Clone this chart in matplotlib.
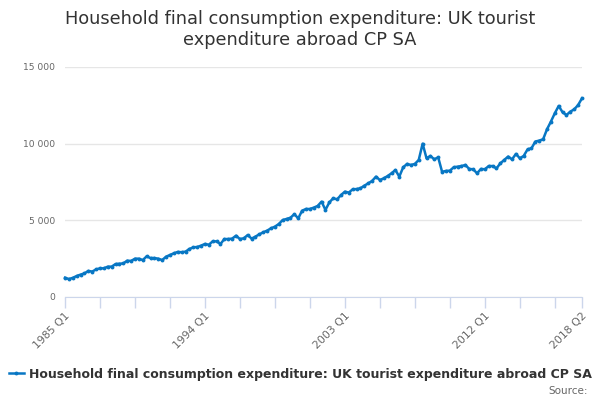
import numpy as np
import matplotlib
matplotlib.use('Agg')
import matplotlib.pyplot as plt
from matplotlib.ticker import FuncFormatter, FixedLocator

# quarterly values, 1985 Q1 .. 2018 Q2 (£ million)
values = [
    1260, 1170, 1250, 1370, 1460, 1540, 1700, 1660, 1800, 1870, 1870, 1980,
    1980, 2150, 2170, 2190, 2370, 2350, 2500, 2500, 2410, 2650, 2540, 2540,
    2500, 2410, 2630, 2740, 2850, 2940, 2920, 2960, 3130, 3240, 3260, 3350,
    3460, 3410, 3630, 3630, 3460, 3780, 3780, 3810, 4000, 3780, 3830, 4040,
    3810, 3940, 4090, 4220, 4330, 4480, 4590, 4760, 5020, 5090, 5170, 5400,
    5130, 5630, 5740, 5740, 5830, 5940, 6220, 5680, 6170, 6440, 6370, 6650,
    6870, 6810, 7020, 7040, 7090, 7260, 7410, 7570, 7850, 7630, 7740, 7890,
    8070, 8280, 7850, 8460, 8680, 8610, 8680, 8940, 10000, 9050, 9200, 8980,
    9110, 8170, 8220, 8240, 8460, 8500, 8540, 8610, 8350, 8330, 8070, 8350,
    8330, 8540, 8540, 8390, 8720, 8940, 9160, 8980, 9330, 9050, 9200, 9630,
    9700, 10140, 10200, 10290, 10940, 11440, 11980, 12460, 12050, 11870, 12090, 12240,
    12520, 12960,
]
quarters = [f'{1985 + i // 4} Q{i % 4 + 1}' for i in range(len(values))]
labelled = ['1985 Q1', '1994 Q1', '2003 Q1', '2012 Q1', '2018 Q2']

title = 'Household final consumption expenditure: UK tourist\nexpenditure abroad CP SA'
series_name = 'Household final consumption expenditure: UK tourist expenditure abroad CP SA'

blue = '#0877c4'
grey = '#666666'
axis_col = '#ccd6eb'

fig = plt.figure(figsize=(6, 4), dpi=100)
ax = fig.add_axes([65 / 600, 103 / 400, 517 / 600, 230 / 400])

x = np.arange(len(values))
line, = ax.plot(x, values, color=blue, lw=1.8, marker='o', ms=2.8,
                markeredgewidth=0, label=series_name, clip_on=False)

ax.set_xlim(0, len(values) - 1)
ax.set_ylim(0, 15000)
ax.set_yticks([0, 5000, 10000, 15000])
ax.yaxis.set_major_formatter(FuncFormatter(lambda v, p: f'{int(v):,}'.replace(',', ' ')))
ax.grid(axis='y', color='#e6e6e6', lw=1)
ax.set_axisbelow(True)

tick_pos = list(range(0, len(values), 9)) + [len(values) - 1]
ax.xaxis.set_major_locator(FixedLocator(tick_pos))
ax.set_xticklabels([q if q in labelled else '' for q in (quarters[i] for i in tick_pos)],
                   rotation=45, ha='right', rotation_mode='anchor')

for s in ['top', 'right', 'left']:
    ax.spines[s].set_visible(False)
ax.spines['bottom'].set_color(axis_col)
ax.tick_params(axis='x', colors=axis_col, length=8, width=1, labelcolor=grey,
               labelsize=7.8, pad=2)
ax.tick_params(axis='y', length=0, labelcolor=grey, labelsize=6.6, pad=7)

fig.suptitle(title, x=0.5, y=0.975, fontsize=12.8, color='#333333', va='top',
             linespacing=1.2)

fig.legend(handles=[line], loc='lower center', bbox_to_anchor=(0.5, 0.02),
           frameon=False, handlelength=1.2, handletextpad=0.4,
           prop={'weight': 'bold', 'size': 9}, labelcolor='#333333')
fig.text(0.98, 0.01, 'Source:', ha='right', va='bottom', fontsize=7.5, color=grey)

fig.savefig('out.png', dpi=100)
